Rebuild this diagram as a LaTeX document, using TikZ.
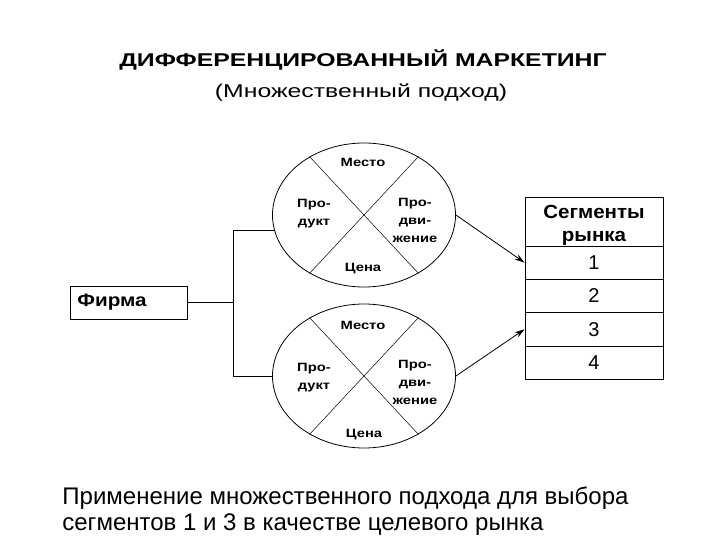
\documentclass[tikz,border=0pt]{standalone}
\usepackage{fontspec}
\setmainfont{Liberation Sans}
\newfontfamily\widefont[FakeStretch=1.34]{Liberation Sans}
\newfontfamily\lblfont[FakeStretch=1.23]{Liberation Sans}
\newfontfamily\firmfont[FakeStretch=1.15]{Liberation Sans}
\newfontfamily\segfont[FakeStretch=1.08]{Liberation Sans}
\usetikzlibrary{arrows.meta,shapes,positioning}

\begin{document}
\begin{tikzpicture}[x=1pt,y=-1pt,line width=0.8pt,>={Stealth[length=10pt,width=6pt]},
    mix/.style={ellipse,draw,minimum width=183pt,minimum height=144pt,inner sep=0pt},
    lbl/.style={font=\lblfont\fontsize{12}{18}\selectfont\bfseries,align=center,inner sep=0pt},
    cell/.style={draw,minimum width=138pt,minimum height=33.3pt,inner sep=0pt,
                 font=\fontsize{20}{22}\selectfont}]

    \useasboundingbox (0,0) rectangle (720,540);

    % titles
    \node[font=\widefont\fontsize{18.5}{22}\selectfont\bfseries,anchor=base] (title) at (363,67)
        {ДИФФЕРЕНЦИРОВАННЫЙ МАРКЕТИНГ};
    \node[font=\widefont\fontsize{18.5}{22}\selectfont,anchor=base] (sub) at (361,98)
        {(Множественный подход)};

    % marketing mix
    \node[mix] (top) at (364,215) {};
    \node[mix] (bot) at (364,376) {};
    \draw[line width=0.5pt] (top.133) -- (top.-47) (top.47) -- (top.227);
    \draw[line width=0.5pt] (bot.133) -- (bot.-47) (bot.47) -- (bot.227);

    \node[lbl] (tplace) at (363,162) {Место};
    \node[lbl] (tprod)  at (314,214) {Про-\\дукт};
    \node[lbl] (tprom)  at (415,220) {Про-\\дви-\\жение};
    \node[lbl] (tprice) at (363,269) {Цена};

    \node[lbl] (bplace) at (363,325) {Место};
    \node[lbl] (bprod)  at (314,378) {Про-\\дукт};
    \node[lbl] (bprom)  at (415,382) {Про-\\дви-\\жение};
    \node[lbl] (bprice) at (364,435) {Цена};

    % firm
    \node[draw,minimum width=117pt,minimum height=33pt,inner sep=0pt] (firm) at (128.5,302.5) {};
    \node[anchor=west,inner sep=0pt,font=\firmfont\fontsize{18}{20}\selectfont\bfseries]
        (firmtxt) at (77,302.5) {Фирма};
    \coordinate (fork) at (233,302.5);
    \draw (firm.east) -- (fork);
    \draw (fork) |- (top.190);
    \draw (fork) |- (bot.west);

    % segments
    \node[cell,minimum height=49pt] (segh) at (594,221.5) {};
    \node[inner sep=0pt,align=center,font=\segfont\fontsize{19}{22.5}\selectfont\bfseries]
        (seghtxt) at ([yshift=-4pt]segh.center) {Сегменты\\рынка};
    \node[cell] (s1) [below=-0.8pt of segh] {1};
    \node[cell] (s2) [below=-0.8pt of s1] {2};
    \node[cell] (s3) [below=-0.8pt of s2] {3};
    \node[cell] (s4) [below=-0.8pt of s3] {4};

    \draw[->] (top.east) -- (s1.west);
    \draw[->] (bot.east) -- (s3.west);

    % note
    \node[anchor=north west,inner sep=0pt,align=left,font=\fontsize{24}{26}\selectfont]
        (note) at (62,486) {Применение множественного подхода для выбора\\
        сегментов 1 и 3 в качестве целевого рынка};
\end{tikzpicture}
\end{document}
